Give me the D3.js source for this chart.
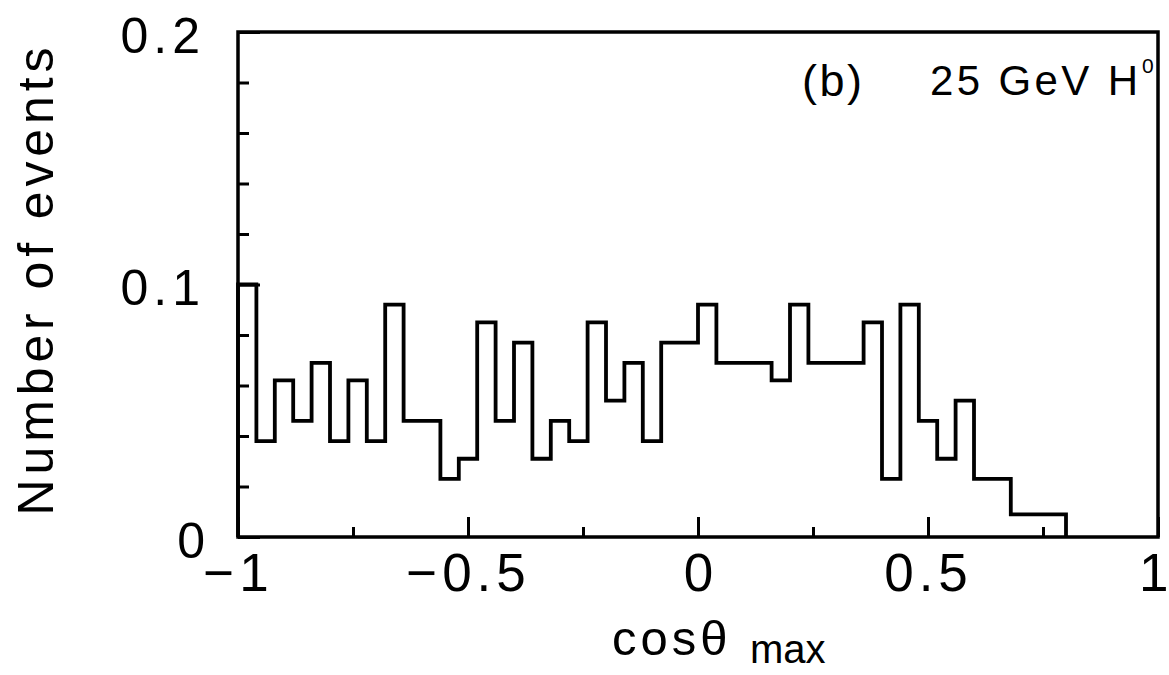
<!DOCTYPE html>
<html>
<head>
<meta charset="utf-8">
<script src="https://cdn.jsdelivr.net/npm/d3@7"></script>
<style>
  body { margin: 0; background: #fff; }
  text { font-family: "Liberation Sans", Arial, Helvetica, sans-serif; fill: #000; }
</style>
</head>
<body>
<div id="chart"></div>
<script>
// Histogram of cos(theta_max), 25 GeV H0, bins of 0.04 starting at -1
const binStart = -1;
const binWidth = 0.04;
const binValues = [
  0.100, 0.038, 0.062, 0.046, 0.069, 0.038, 0.062, 0.038, 0.092, 0.046,
  0.046, 0.023, 0.031, 0.085, 0.046, 0.077, 0.031, 0.046, 0.038, 0.085,
  0.054, 0.069, 0.038, 0.077, 0.077, 0.092, 0.069, 0.069, 0.069, 0.062,
  0.092, 0.069, 0.069, 0.069, 0.085, 0.023, 0.092, 0.046, 0.031, 0.054,
  0.023, 0.023, 0.009, 0.009, 0.009
];
const xTicksMajor = [-1, -0.5, 0, 0.5, 1];
const xTicksMinor = [-0.75, -0.25, 0.25, 0.75];
const yTicksMajor = [0, 0.1, 0.2];
const yTicksMinor = [0.02, 0.04, 0.06, 0.08, 0.12, 0.14, 0.16, 0.18];

const W = 1169, H = 675;
const margin = { top: 32, right: 11, bottom: 138, left: 238 };
const width = W - margin.left - margin.right;
const height = H - margin.top - margin.bottom;

const x = d3.scaleLinear().domain([-1, 1]).range([0, width]);
const y = d3.scaleLinear().domain([0, 0.2]).range([height, 0]);

const svg = d3.select("#chart").append("svg")
    .attr("width", W)
    .attr("height", H);

const g = svg.append("g")
    .attr("transform", "translate(" + margin.left + "," + margin.top + ")");

// step outline of the histogram
const pts = [[binStart, 0]];
binValues.forEach(function(v, i) {
    const x0 = binStart + i * binWidth;
    pts.push([x0, v], [x0 + binWidth, v]);
});
pts.push([binStart + binValues.length * binWidth, 0]);

const line = d3.line()
    .x(function(d) { return x(d[0]); })
    .y(function(d) { return y(d[1]); });

g.append("path")
    .datum(pts)
    .attr("d", line)
    .attr("fill", "none")
    .attr("stroke", "#000")
    .attr("stroke-width", 3.8)
    .attr("stroke-linejoin", "miter");

// minor ticks (inward)
g.append("g")
    .call(d3.axisLeft(y).tickValues(yTicksMinor).tickSize(-11).tickFormat(""))
    .call(function(s) { s.select(".domain").remove(); })
    .selectAll("line").attr("stroke-width", 3);

g.append("g")
    .attr("transform", "translate(0," + height + ")")
    .call(d3.axisBottom(x).tickValues(xTicksMinor).tickSize(-10).tickFormat(""))
    .call(function(s) { s.select(".domain").remove(); })
    .selectAll("line").attr("stroke-width", 3);

// major ticks with labels
const fmt = function(d) { return d === 0 ? "0" : String(d).replace("-", "\u2212"); };

const yAxis = g.append("g")
    .call(d3.axisLeft(y).tickValues(yTicksMajor).tickSize(-22).tickPadding(33).tickFormat(fmt));
yAxis.select(".domain").remove();
yAxis.selectAll("line").attr("stroke-width", 3);
yAxis.selectAll("text")
    .attr("dy", "0.4em")
    .style("font-size", "50px")
    .style("letter-spacing", function(d) { return d === 0 ? "0px" : "5px"; })
    .attr("font-family", null);

const xAxis = g.append("g")
    .attr("transform", "translate(0," + height + ")")
    .call(d3.axisBottom(x).tickValues(xTicksMajor).tickSize(-20).tickPadding(16).tickFormat(fmt));
xAxis.select(".domain").remove();
xAxis.selectAll("line").attr("stroke-width", 3);
xAxis.selectAll("text")
    .style("font-size", "53px")
    .style("letter-spacing", function(d) { return (d === 0 || d === 1) ? "0px" : "5px"; })
    .attr("font-family", null);
// keep the last label inside the page
xAxis.selectAll("text")
    .filter(function(d) { return d === 1; })
    .attr("text-anchor", "end")
    .attr("x", 10);

// frame
g.append("rect")
    .attr("x", 0)
    .attr("y", 0)
    .attr("width", width)
    .attr("height", height)
    .attr("fill", "none")
    .attr("stroke", "#000")
    .attr("stroke-width", 3.5);

// y axis title
svg.append("text")
    .attr("transform", "translate(53," + (margin.top + height / 2 - 3) + ") rotate(-90)")
    .attr("text-anchor", "middle")
    .attr("textLength", 468)
    .attr("lengthAdjust", "spacing")
    .style("font-size", "50px")
    .text("Number of events");

// x axis title: cos theta_max
const xt = svg.append("text")
    .attr("y", 655)
    .style("font-size", "49px");
xt.append("tspan")
    .attr("x", 612)
    .style("letter-spacing", "4px")
    .text("cos\u03b8");
xt.append("tspan")
    .attr("x", 750)
    .attr("y", 663)
    .style("font-size", "40px")
    .text("max");

// annotation
svg.append("text")
    .attr("x", 802)
    .attr("y", 96)
    .attr("textLength", 60)
    .attr("lengthAdjust", "spacing")
    .style("font-size", "45px")
    .text("(b)");

svg.append("text")
    .attr("x", 930)
    .attr("y", 95)
    .attr("textLength", 208)
    .attr("lengthAdjust", "spacing")
    .style("font-size", "42px")
    .text("25 GeV H");

svg.append("text")
    .attr("x", 1142)
    .attr("y", 73)
    .style("font-size", "21px")
    .text("0");
</script>
</body>
</html>
